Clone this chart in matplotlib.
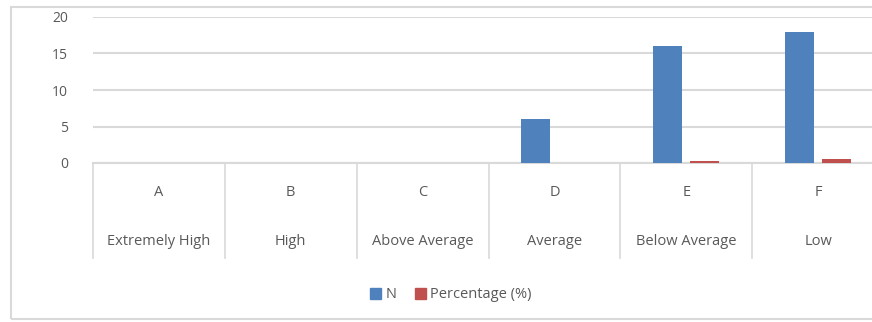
import matplotlib.pyplot as plt
from matplotlib.patches import Rectangle
from matplotlib.lines import Line2D

grades = ["A", "B", "C", "D", "E", "F"]
levels = ["Extremely High", "High", "Above Average", "Average", "Below Average", "Low"]
n_vals = [0, 0, 0, 6, 16, 18]
pct_vals = [0, 0, 0, 0, 0.3, 0.55]
yticks = [0, 5, 10, 15, 20]

blue = "#4f81bd"
red = "#c0504d"
grid = "#d9d9d9"
txt = "#595959"

plt.rcParams['font.family'] = ['Open Sans', 'DejaVu Sans']

W, H = 872, 322
fig = plt.figure(figsize=(W / 100, H / 100), dpi=100)

# outer chart border (runs off the right edge)
fig.patches.append(Rectangle((11 / W, 1 - 319 / H), 2.0, (319 - 7) / H,
                             transform=fig.transFigure, fill=False,
                             edgecolor=grid, linewidth=1.5))

ax = fig.add_axes([93 / W, 1 - 163 / H, (884 - 93) / W, (163 - 17) / H])
x = range(len(grades))
w = 0.22
ax.bar([i - 0.14 for i in x], n_vals, w, color=blue, zorder=3)
ax.bar([i + 0.14 for i in x], pct_vals, w, color=red, zorder=3)

ax.set_xlim(-0.5, 5.5)
ax.set_ylim(0, 20)
ax.set_yticks(yticks)
ax.tick_params(axis='y', length=0, labelsize=10, labelcolor=txt, pad=18)
ax.set_xticks([])
ax.yaxis.grid(True, color=grid, linewidth=1.5, zorder=0)
for s in ax.spines.values():
    s.set_visible(False)

# two-level category axis
tr = ax.get_xaxis_transform()
ax.add_line(Line2D([-0.5, 5.5], [0, 0], transform=tr, color=grid, lw=1.5, clip_on=False))
for b in range(len(grades) + 1):
    ax.add_line(Line2D([b - 0.5, b - 0.5], [0, -0.65], transform=tr,
                       color=grid, lw=1.2, clip_on=False))
for i in x:
    ax.text(i, -0.2, grades[i], transform=tr, ha='center', va='center',
            fontsize=10.5, color=txt)
    ax.text(i, -0.535, levels[i], transform=tr, ha='center', va='center',
            fontsize=10.5, color=txt)

handles = [Rectangle((0, 0), 1, 1, color=blue), Rectangle((0, 0), 1, 1, color=red)]
fig.legend(handles, ["N", "Percentage (%)"], loc='center',
           bbox_to_anchor=(451 / W, 1 - 295 / H), ncol=2, frameon=False,
           handlelength=0.75, handleheight=0.75, handletextpad=0.3,
           columnspacing=1.3, labelcolor=txt, fontsize=10.5)

fig.savefig("out.png", dpi=100)
